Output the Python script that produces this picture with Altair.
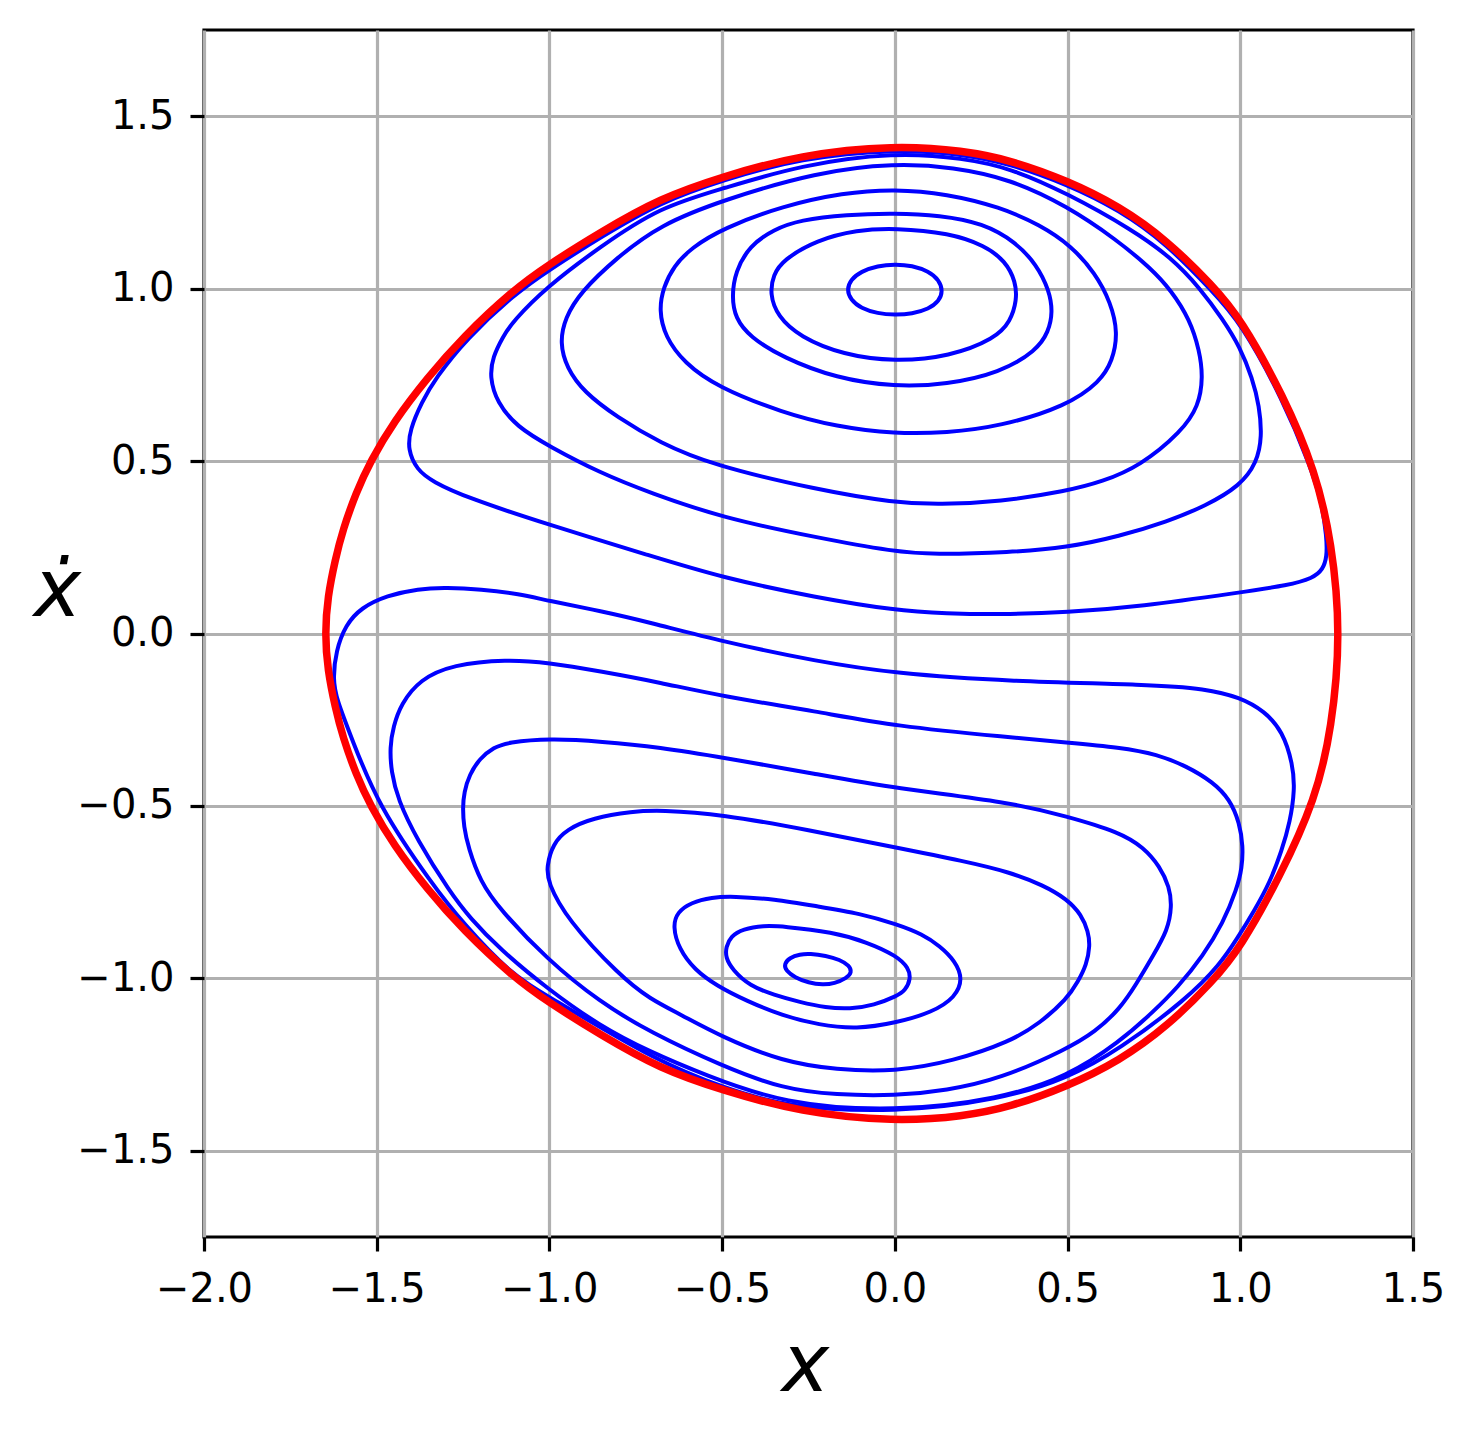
import altair as alt
import pandas as pd

# ---------------- data ----------------
X_TICKS = [-2.0, -1.5, -1.0, -0.5, 0.0, 0.5, 1.0, 1.5]
Y_TICKS = [-1.5, -1.0, -0.5, 0.0, 0.5, 1.0, 1.5]

# outer red curve (closed)
red_x = [-1.650, -1.642, -1.620, -1.598, -1.560, -1.518, -1.450, -1.355, -1.250, -1.106,
         -1.005, -0.850, -0.680, -0.498, -0.275, 0.000, 0.200, 0.333, 0.498, 0.650,
         0.787, 0.921, 1.000, 1.125, 1.218, 1.265, 1.291,
         1.265, 1.218, 1.115, 1.000, 0.921, 0.787, 0.650, 0.498, 0.333, 0.200,
         0.000, -0.275, -0.498, -0.680, -0.850, -1.005, -1.106, -1.250, -1.355, -1.450,
         -1.518, -1.560, -1.598, -1.620, -1.642]
red_y = [0.000, 0.107, 0.215, 0.301, 0.408, 0.500, 0.615, 0.740, 0.860, 0.995,
         1.068, 1.165, 1.262, 1.325, 1.388, 1.416, 1.400, 1.373, 1.314, 1.239,
         1.141, 1.008, 0.915, 0.690, 0.470, 0.264, 0.000,
         -0.275, -0.480, -0.705, -0.912, -1.008, -1.141, -1.239, -1.314, -1.373, -1.400,
         -1.416, -1.388, -1.325, -1.262, -1.165, -1.068, -0.995, -0.860, -0.740, -0.615,
         -0.500, -0.408, -0.301, -0.215, -0.107]

# upper family of blue loops
u1_x = [-0.139, -0.128, -0.098, -0.050, 0.000, 0.050, 0.098, 0.128,
        0.139, 0.128, 0.098, 0.050, 0.000, -0.050, -0.098, -0.128]
u1_y = [0.997, 1.026, 1.050, 1.066, 1.071, 1.067, 1.050, 1.025,
        0.993, 0.964, 0.941, 0.927, 0.924, 0.928, 0.943, 0.968]

u2_x = [-0.362, -0.352, -0.324, -0.226, -0.110, 0.000, 0.159, 0.260, 0.320, 0.350,
        0.353, 0.335, 0.290, 0.159, 0.000, -0.150, -0.275, -0.340]
u2_y = [0.985, 1.040, 1.083, 1.141, 1.170, 1.176, 1.161, 1.125, 1.080, 1.020,
        0.967, 0.905, 0.855, 0.803, 0.788, 0.808, 0.860, 0.920]

u3_x = [-0.472, -0.462, -0.420, -0.350, -0.275, -0.140, 0.000, 0.130, 0.255, 0.350,
        0.410, 0.447, 0.457, 0.445, 0.410, 0.304, 0.150, 0.000, -0.170, -0.324,
        -0.420, -0.462]
u3_y = [0.976, 1.050, 1.125, 1.172, 1.199, 1.215, 1.219, 1.213, 1.190, 1.135,
        1.070, 0.995, 0.932, 0.875, 0.820, 0.756, 0.722, 0.715, 0.740, 0.800,
        0.860, 0.915]

u4_x = [-0.683, -0.670, -0.640, -0.590, -0.498, -0.324, -0.150, 0.000, 0.150, 0.304,
        0.420, 0.510, 0.580, 0.625, 0.646, 0.630, 0.594, 0.498, 0.304, 0.150,
        0.000, -0.170, -0.324, -0.515, -0.610, -0.665]
u4_y = [0.938, 1.005, 1.065, 1.118, 1.175, 1.240, 1.278, 1.289, 1.275, 1.237,
        1.185, 1.125, 1.045, 0.960, 0.872, 0.790, 0.730, 0.660, 0.600, 0.582,
        0.579, 0.600, 0.640, 0.715, 0.785, 0.860]

u5_x = [-0.970, -0.955, -0.910, -0.805, -0.680, -0.498, -0.226, 0.000, 0.170, 0.333,
        0.498, 0.643, 0.740, 0.800, 0.854, 0.882, 0.892, 0.880, 0.830, 0.709,
        0.600, 0.498, 0.304, 0.130, 0.000, -0.226, -0.530, -0.680, -0.805, -0.900,
        -0.950]
u5_y = [0.843, 0.915, 0.990, 1.090, 1.185, 1.257, 1.338, 1.364, 1.352, 1.318,
        1.240, 1.141, 1.060, 0.995, 0.910, 0.820, 0.744, 0.660, 0.585, 0.485,
        0.440, 0.413, 0.382, 0.374, 0.379, 0.417, 0.489, 0.553, 0.628, 0.700,
        0.770]

u6_x = [-1.173, -1.164, -1.135, -1.106, -1.008, -0.854, -0.680, -0.498, -0.275, 0.000,
        0.200, 0.333, 0.498, 0.689, 0.800, 0.883, 0.950, 0.999, 1.035, 1.055,
        1.063, 1.048, 0.999, 0.900, 0.787, 0.650, 0.498, 0.333, 0.110, 0.000,
        -0.226, -0.501, -0.709, -0.854, -0.999, -1.094, -1.152]
u6_y = [0.744, 0.802, 0.860, 0.905, 1.005, 1.121, 1.237, 1.290, 1.358, 1.396,
        1.378, 1.350, 1.277, 1.170, 1.090, 1.002, 0.910, 0.831, 0.740, 0.660,
        0.571, 0.495, 0.428, 0.370, 0.324, 0.282, 0.249, 0.235, 0.229, 0.237,
        0.278, 0.336, 0.408, 0.466, 0.542, 0.599, 0.670]

u7_x = [-1.410, -1.404, -1.370, -1.330, -1.240, -1.100, -1.000, -0.850, -0.680, -0.498,
        -0.275, 0.000, 0.200, 0.333, 0.498, 0.650, 0.787, 0.921, 0.999, 1.123,
        1.205, 1.236, 1.250, 1.251, 1.239, 1.210, 1.140, 0.999, 0.709, 0.498,
        0.304, 0.150, 0.000, -0.226, -0.501, -0.709, -1.005, -1.239, -1.338, -1.384]
u7_y = [0.533, 0.591, 0.670, 0.740, 0.855, 0.985, 1.055, 1.150, 1.250, 1.315,
        1.378, 1.405, 1.390, 1.362, 1.303, 1.228, 1.130, 0.990, 0.905, 0.680,
        0.480, 0.379, 0.280, 0.223, 0.185, 0.160, 0.140, 0.119, 0.078, 0.061,
        0.055, 0.058, 0.067, 0.104, 0.162, 0.226, 0.316, 0.394, 0.440, 0.475]

# lower family of blue loops
l1_x = [-0.321, -0.305, -0.275, -0.246, -0.200, -0.159, -0.132, -0.124, -0.140, -0.175,
        -0.208, -0.250, -0.290, -0.315]
l1_y = [-0.959, -0.940, -0.930, -0.928, -0.934, -0.946, -0.963, -0.982, -1.000, -1.015,
        -1.019, -1.013, -0.997, -0.978]

l2_x = [-0.489, -0.475, -0.440, -0.380, -0.324, -0.180, -0.080, 0.006, 0.040, 0.046,
        0.030, 0.006, -0.060, -0.130, -0.200, -0.275, -0.350, -0.420, -0.470, -0.490]
l2_y = [-0.909, -0.878, -0.857, -0.847, -0.849, -0.866, -0.895, -0.935, -0.970, -1.002,
        -1.035, -1.051, -1.078, -1.089, -1.085, -1.069, -1.048, -1.022, -0.975, -0.940]

l3_x = [-0.643, -0.630, -0.590, -0.530, -0.469, -0.350, -0.226, -0.100, 0.006, 0.080,
        0.130, 0.175, 0.197, 0.175, 0.110, 0.000, -0.110, -0.220, -0.324, -0.430,
        -0.515, -0.580, -0.625]
l3_y = [-0.849, -0.808, -0.780, -0.765, -0.762, -0.770, -0.791, -0.812, -0.843, -0.872,
        -0.906, -0.950, -1.002, -1.055, -1.098, -1.130, -1.147, -1.135, -1.109, -1.065,
        -1.022, -0.975, -0.915]

l4_x = [-1.008, -0.990, -0.950, -0.875, -0.760, -0.680, -0.501, -0.250, 0.000, 0.200,
        0.333, 0.430, 0.498, 0.540, 0.560, 0.565, 0.555, 0.530, 0.498, 0.420,
        0.333, 0.170, 0.000, -0.170, -0.324, -0.501, -0.620, -0.709, -0.796, -0.950,
        -1.005]
l4_y = [-0.675, -0.610, -0.568, -0.535, -0.516, -0.512, -0.524, -0.570, -0.620, -0.660,
        -0.692, -0.730, -0.770, -0.815, -0.865, -0.906, -0.960, -1.010, -1.060, -1.130,
        -1.184, -1.240, -1.271, -1.265, -1.242, -1.170, -1.105, -1.060, -0.993, -0.828,
        -0.721]

l5_x = [-1.251, -1.247, -1.232, -1.202, -1.160, -1.123, -0.999, -0.850, -0.680, -0.501,
        -0.226, 0.000, 0.333, 0.498, 0.651, 0.720, 0.767, 0.795, 0.802, 0.790,
        0.747, 0.700, 0.651, 0.580, 0.498, 0.304, 0.150, 0.000, -0.170, -0.324,
        -0.501, -0.709, -0.854, -1.008, -1.144, -1.200, -1.235, -1.248]
l5_y = [-0.504, -0.460, -0.410, -0.362, -0.330, -0.316, -0.304, -0.313, -0.330, -0.359,
        -0.408, -0.449, -0.489, -0.530, -0.576, -0.620, -0.675, -0.735, -0.791, -0.860,
        -0.935, -1.015, -1.089, -1.155, -1.205, -1.292, -1.325, -1.341, -1.338, -1.321,
        -1.254, -1.156, -1.069, -0.944, -0.799, -0.720, -0.620, -0.560]

l6_x = [-1.462, -1.452, -1.430, -1.375, -1.280, -1.123, -1.005, -0.850, -0.680, -0.501,
        -0.226, 0.000, 0.333, 0.498, 0.651, 0.760, 0.845, 0.920, 0.970, 0.998,
        1.008, 1.005, 0.990, 0.950, 0.892, 0.820, 0.747, 0.651, 0.500, 0.304,
        0.000, -0.324, -0.550, -0.709, -0.854, -1.005, -1.144, -1.230, -1.288, -1.384,
        -1.439, -1.458]
l6_y = [-0.330, -0.270, -0.205, -0.133, -0.090, -0.075, -0.084, -0.110, -0.142, -0.182,
        -0.226, -0.269, -0.301, -0.316, -0.330, -0.350, -0.385, -0.430, -0.481, -0.550,
        -0.617, -0.680, -0.741, -0.840, -0.935, -1.025, -1.098, -1.184, -1.285, -1.350,
        -1.387, -1.364, -1.280, -1.213, -1.138, -1.031, -0.915, -0.825, -0.750, -0.597,
        -0.481, -0.400]

l7_x = [-1.627, -1.618, -1.590, -1.545, -1.471, -1.380, -1.297, -1.200, -1.086, -1.005,
        -0.850, -0.709, -0.501, -0.226, 0.000, 0.333, 0.738, 0.900, 0.999, 1.070,
        1.123, 1.152, 1.158, 1.144, 1.120, 1.086, 1.040, 0.990, 0.941, 0.845,
        0.651, 0.500, 0.304, 0.000, -0.324, -0.500, -0.680, -1.005, -1.115, -1.250,
        -1.338, -1.497, -1.572, -1.616]
l7_y = [-0.133, -0.050, 0.025, 0.075, 0.110, 0.130, 0.133, 0.128, 0.115, 0.095,
        0.065, 0.032, -0.023, -0.081, -0.116, -0.139, -0.148, -0.160, -0.185, -0.225,
        -0.284, -0.379, -0.452, -0.547, -0.630, -0.721, -0.805, -0.886, -0.960, -1.060,
        -1.205, -1.290, -1.352, -1.390, -1.372, -1.315, -1.245, -1.052, -0.985, -0.840,
        -0.730, -0.497, -0.305, -0.191]

blue_curves = {
    "U1": (u1_x, u1_y), "U2": (u2_x, u2_y), "U3": (u3_x, u3_y), "U4": (u4_x, u4_y),
    "U5": (u5_x, u5_y), "U6": (u6_x, u6_y), "U7": (u7_x, u7_y),
    "L1": (l1_x, l1_y), "L2": (l2_x, l2_y), "L3": (l3_x, l3_y), "L4": (l4_x, l4_y),
    "L5": (l5_x, l5_y), "L6": (l6_x, l6_y), "L7": (l7_x, l7_y),
}

rows = []
for name, (xs, ys) in blue_curves.items():
    for i, (a, b) in enumerate(zip(xs, ys)):
        rows.append({"curve": name, "i": i, "x": a, "y": b})
blue_df = pd.DataFrame(rows)
red_df = pd.DataFrame({"curve": "red", "i": list(range(len(red_x))), "x": red_x, "y": red_y})

# ---------------- chart ----------------
FONT = "DejaVu Sans"
label_expr = "replace(format(datum.value, '.1f'), '-', '\u2212')"

x_scale = alt.Scale(domain=[-2.0, 1.5], nice=False, zero=False)
y_scale = alt.Scale(domain=[-1.75, 1.75], nice=False, zero=False)

x_axis = alt.Axis(
    values=X_TICKS, labelExpr=label_expr, title="x",
    titleFont=FONT, titleFontStyle="italic", titleFontWeight="normal", titleFontSize=80,
    titleColor="black", titleX=601, titleY=153, titleAlign="center", titleBaseline="alphabetic",
    labelPadding=18, labelFlush=False, labelOverlap=False,
)
y_axis = alt.Axis(
    values=Y_TICKS, labelExpr=label_expr, title="\u1e8b",
    titleFont=FONT, titleFontStyle="italic", titleFontWeight="normal", titleFontSize=80,
    titleColor="black", titleAngle=0, titleX=-147, titleY=585, titleAlign="center",
    titleBaseline="alphabetic",
    labelPadding=16, labelFlush=False, labelOverlap=False,
)

enc_x = alt.X("x:Q", scale=x_scale, axis=x_axis)
enc_y = alt.Y("y:Q", scale=y_scale, axis=y_axis)

blue = alt.Chart(blue_df).mark_line(
    color="#0000ff", strokeWidth=4, interpolate="basis-closed"
).encode(x=enc_x, y=enc_y, detail="curve:N", order="i:Q")

red = alt.Chart(red_df).mark_line(
    color="#ff0000", strokeWidth=7.5, interpolate="basis-closed"
).encode(x=alt.X("x:Q", scale=x_scale), y=alt.Y("y:Q", scale=y_scale), order="i:Q")

chart = alt.layer(blue, red).properties(
    width=1209, height=1207,
    autosize=alt.AutoSizeParams(type="none"),
    padding={"left": 196, "top": 22, "right": 54, "bottom": 192},
).configure_view(
    stroke="black", strokeWidth=3.2
).configure_axis(
    domain=False, grid=True, gridColor="#b0b0b0", gridWidth=3.2,
    ticks=True, tickColor="black", tickWidth=3.2, tickSize=14,
    labelFont=FONT, labelFontSize=40, labelColor="black",
)

chart.save("out.html", embed_options={"renderer": "svg", "actions": False})
